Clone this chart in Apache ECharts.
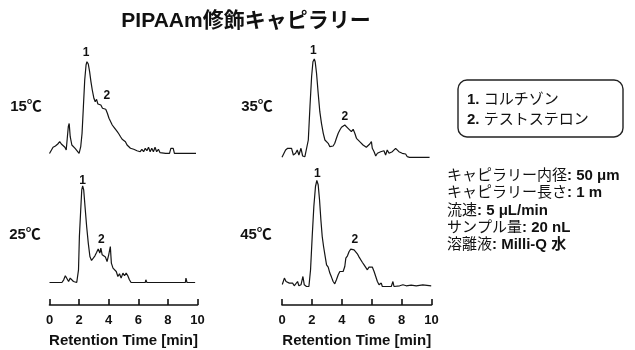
<!DOCTYPE html>
<html>
<head>
<meta charset="utf-8">
<script src="https://cdn.jsdelivr.net/npm/echarts@6/dist/echarts.min.js"></script>
<style>html,body{margin:0;padding:0;background:#fff}#c{width:635px;height:350px}</style>
</head>
<body>
<div id="c"></div>
<script>
// ---- data (retention time [min], detector signal [a.u.]) ----
const t15 = [0,0.07,0.24,0.4,0.56,0.69,0.8,0.91,1.04,1.13,1.27,1.33,1.4,1.51,1.62,1.73,1.84,2.0,2.11,2.2,2.29,2.38,2.47,2.53,2.62,2.71,2.8,2.89,3.0,3.09,3.18,3.27,3.36,3.47,3.58,3.69,3.8,3.91,4.02,4.13,4.24,4.36,4.47,4.58,4.69,4.8,4.91,5.02,5.13,5.24,5.36,5.47,5.58,5.69,5.8,5.91,6.02,6.13,6.24,6.36,6.47,6.58,6.69,6.8,6.91,7.02,7.13,7.24,7.36,7.47,7.58,7.84,8.11,8.2,8.36,8.44,8.84,8.96,9.07,9.9];
const s15 = [0,0.5,6.2,7.5,9.5,11.8,9.5,7.5,6.2,3.5,26.8,30,16.8,8.5,6.8,5.2,3.5,0.2,6.8,20.2,46.8,73.5,88.5,91.8,89.5,81.8,71.8,63.5,55.2,51.8,54.2,49.5,47.5,48.5,45.2,43.5,44.2,40.2,35.2,33.5,28.5,26.2,24.2,21.8,19.5,16.8,14.2,12.8,11.8,8.5,6.8,5.2,6.2,4.2,5.2,2.8,4.2,1.8,4.2,1.8,5.2,2.8,6.2,1.8,5.2,1.8,6.2,1.8,4.2,0.8,0.8,0.2,0.2,5.2,5.2,0.2,0.2,1.2,0.2,0.2];

const t35 = [0,0.09,0.24,0.38,0.51,0.64,0.76,0.91,1.02,1.13,1.27,1.38,1.53,1.64,1.76,1.87,1.98,2.07,2.16,2.22,2.31,2.42,2.53,2.64,2.76,2.87,2.98,3.09,3.2,3.31,3.42,3.53,3.64,3.76,3.87,3.98,4.09,4.2,4.31,4.42,4.53,4.64,4.76,4.87,4.98,5.09,5.2,5.31,5.42,5.53,5.64,5.76,5.87,5.98,6.04,6.16,6.27,6.38,6.49,6.6,6.71,6.82,6.93,7.04,7.16,7.27,7.38,7.49,7.6,7.71,7.82,7.93,8.04,8.16,8.27,8.38,8.53,9.87];
const s35 = [0.2,0.8,7.5,9.2,7.5,9.2,2.5,4.2,7.5,2.5,9.2,1.5,0.8,2.5,17.5,50.8,80.8,95.8,98.5,95.8,84.2,64.2,45.8,34.2,24.2,17.5,19.2,14.2,10.8,12.5,11.5,14.2,19.2,24.2,27.5,30.2,31.5,32.5,31.5,29.2,30.2,25.8,28.2,24.2,19.2,20.8,15.8,14.2,12.5,11.5,10.2,11.5,13.5,15.8,9.2,5.8,1.5,4.2,2.5,5.8,4.2,6.8,2.5,7.5,4.2,2.5,5.8,7.5,9.2,7.5,5.8,7.5,4.2,2.5,3.5,0.8,0.2,0.2];

const t25 = [0,0.84,0.96,1.07,1.18,1.29,1.4,1.51,1.62,1.84,1.96,2.02,2.11,2.18,2.24,2.31,2.4,2.51,2.62,2.73,2.84,2.96,3.07,3.18,3.29,3.4,3.47,3.56,3.67,3.78,3.89,4.0,4.11,4.18,4.29,4.4,4.51,4.62,4.73,4.84,4.96,5.07,5.18,5.29,5.4,5.51,5.84,5.96,6.07,6.47,6.51,6.58,7.07,7.13,7.22,7.8,7.87,7.93,9.18,9.22,9.29,9.84];
const s25 = [0,0,2.7,6.7,5.4,1.0,4.4,5.4,1.0,0,12.7,46,72.7,92.7,96.7,92.7,76,56,39.4,26,22,22.7,26.7,30,33.4,29.4,34.4,27.7,29.4,25.4,21,27.7,36,19.4,14.4,12.7,11,6,8.7,4.4,9.4,6.7,9.4,6.7,2.7,0,0,1.4,0,0,2.7,0,0,1,0,0,1,0,0,4.4,0,0];

const t45 = [0.02,0.16,0.27,0.38,0.49,0.6,0.71,0.82,0.93,1.04,1.13,1.27,1.4,1.49,1.64,1.8,1.91,2.02,2.13,2.24,2.33,2.42,2.51,2.6,2.69,2.78,2.87,2.98,3.09,3.2,3.31,3.42,3.53,3.64,3.76,3.87,3.98,4.09,4.2,4.27,4.38,4.49,4.6,4.71,4.82,4.93,5.04,5.16,5.27,5.38,5.49,5.6,5.71,5.82,5.93,6.04,6.16,6.27,6.38,6.49,6.6,6.64,6.71,7.31,7.42,7.49,7.87,8.09,8.31,8.64,8.98,9.42,9.53,9.98];
const s45 = [2,8.4,5,6.7,3.4,1.7,3.4,0.7,2.7,5,0.7,1.7,10,1.7,0,0,16.7,50,80,100,106,101.7,86.7,66.7,50,40,31.7,21.7,19.4,13.4,9.4,5,2.7,6.7,11.7,15,16.7,15,20,28.4,30.7,35,37.4,38.4,36.7,35,32.7,29.4,27.4,24,21.7,19.7,16.7,19.4,17.4,19.4,15,10,5,1.7,0,3.4,0,0,5,0,0.7,1.7,0.7,1.4,0.7,1.7,0.7,0.7];

// peak label anchors: [time, signal, text]
const peaks15 = [[2.47, 101, '1'], [3.87, 58, '2']];
const peaks35 = [[2.09, 107, '1'], [4.2, 41, '2']];
const peaks25 = [[2.24, 102, '1'], [3.51, 43, '2']];
const peaks45 = [[2.36, 113, '1'], [4.87, 47, '2']];

const temps = ['15℃', '35℃', '25℃', '45℃'];
const xTicks = [0, 2, 4, 6, 8, 10];
const titleText = 'PIPAAm修飾キャピラリー';
const legendLines = ['コルチゾン', 'テストステロン'];
const infoLines = [
  ['キャピラリー内径', '50 μm'],
  ['キャピラリー長さ', '1 m'],
  ['流速', '5 μL/min'],
  ['サンプル量', '20 nL'],
  ['溶離液', 'Milli-Q 水']
];
const xName = 'Retention Time [min]';

// ---- build chart ----
const FONT = '"Liberation Sans", "Noto Sans CJK JP", sans-serif';
const zip = (a, b) => a.map((v, i) => [v, b[i]]);
const sets = [
  {t: t15, s: s15, p: peaks15},
  {t: t35, s: s35, p: peaks35},
  {t: t25, s: s25, p: peaks25},
  {t: t45, s: s45, p: peaks45}
];
const grids = [
  {left: 49.5, top: 33.5, width: 148, height: 120},
  {left: 282, top: 37.5, width: 149.5, height: 120},
  {left: 49.5, top: 162.5, width: 148, height: 120},
  {left: 282, top: 166.5, width: 149.5, height: 120}
];
const axisY = 305;

const xAxes = grids.map((g, i) => {
  const shown = i >= 2;
  return {
    gridIndex: i, type: 'value', min: 0, max: 10, interval: 2,
    show: shown, position: 'bottom',
    offset: shown ? axisY - (g.top + g.height) : 0,
    axisLine: {show: true, onZero: false, lineStyle: {color: '#111', width: 1.6}},
    axisTick: {show: true, inside: true, length: 6, lineStyle: {color: '#111', width: 1.6}},
    splitLine: {show: false},
    axisLabel: {show: true, color: '#111', fontFamily: FONT, fontWeight: 'bold', fontSize: 13, margin: 9,
      formatter: v => xTicks.includes(v) ? String(v) : ''},
    name: xName, nameLocation: 'middle', nameGap: 28,
    nameTextStyle: {color: '#111', fontFamily: FONT, fontWeight: 'bold', fontSize: 15}
  };
});
const yAxes = grids.map((g, i) => ({gridIndex: i, type: 'value', min: 0, max: 120, show: false}));

const series = sets.map((d, i) => ({
  type: 'line', xAxisIndex: i, yAxisIndex: i,
  data: zip(d.t, d.s), showSymbol: false, symbol: 'none', smooth: false,
  lineStyle: {color: '#151515', width: 1.2}, clip: false,
  markPoint: {
    symbol: 'circle', symbolSize: 0, silent: true,
    label: {show: true, position: 'inside', color: '#111', fontFamily: FONT, fontWeight: 'bold', fontSize: 12,
      formatter: p => p.name},
    data: d.p.map(q => ({name: q[2], coord: [q[0], q[1]]}))
  }
}));

const tempPos = [[26, 107], [257, 107], [25, 235], [256, 235]];
const graphics = [];
graphics.push({type: 'text', style: {text: titleText, x: 246, y: 21, align: 'center', verticalAlign: 'middle',
  font: 'bold 21px ' + FONT, fill: '#111'}});
temps.forEach((tx, i) => graphics.push({type: 'text', style: {text: tx, x: tempPos[i][0], y: tempPos[i][1],
  align: 'center', verticalAlign: 'middle', font: 'bold 15px ' + FONT, fill: '#111'}}));
graphics.push({type: 'rect', shape: {x: 458, y: 80, width: 165, height: 57, r: 9},
  style: {fill: 'none', stroke: '#222', lineWidth: 1.4}});
legendLines.forEach((tx, i) => graphics.push({type: 'text', style: {
  text: '{b|' + (i + 1) + '.} ' + tx, x: 467, y: 100 + i * 20, verticalAlign: 'middle',
  font: '15px ' + FONT, fill: '#111',
  rich: {b: {font: 'bold 15px ' + FONT, fill: '#111'}}}}));
infoLines.forEach((ln, i) => graphics.push({type: 'text', style: {
  text: ln[0] + '{b|: ' + ln[1] + '}', x: 447, y: 176 + i * 17.3, verticalAlign: 'middle',
  font: '15px ' + FONT, fill: '#111',
  rich: {b: {font: 'bold 15px ' + FONT, fill: '#111'}}}}));

const chart = echarts.init(document.getElementById('c'), null, {renderer: 'canvas'});
chart.setOption({
  animation: false,
  backgroundColor: '#fff',
  grid: grids.map(g => Object.assign({containLabel: false}, g)),
  xAxis: xAxes,
  yAxis: yAxes,
  series: series,
  graphic: graphics
});
</script>
</body>
</html>
